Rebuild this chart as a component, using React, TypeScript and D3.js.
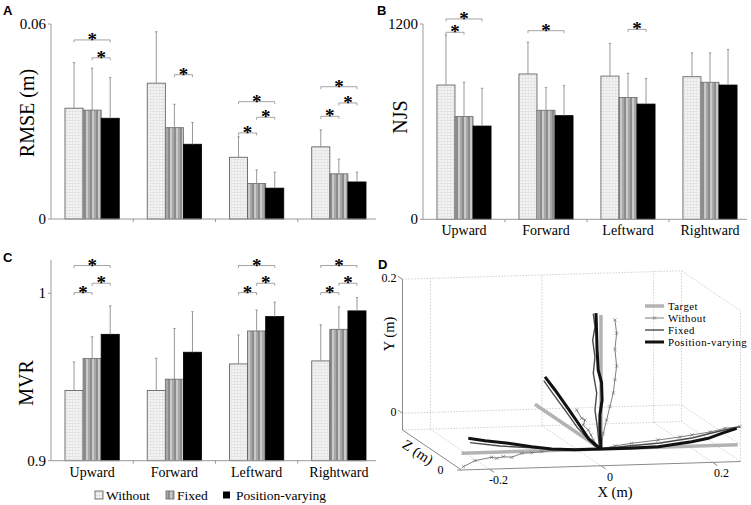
import * as d3 from 'd3';

const categories = ['Upward', 'Forward', 'Leftward', 'Rightward'];
const conditions = ['Without', 'Fixed', 'Position-varying'];

// A: RMSE (m)
const rmseMean = [
  [0.0341, 0.0335, 0.031],
  [0.0418, 0.0281, 0.023],
  [0.019, 0.0109, 0.0095],
  [0.0222, 0.0139, 0.0114],
];
const rmseSd = [
  [0.014, 0.0129, 0.0125],
  [0.0158, 0.0072, 0.0067],
  [0.0063, 0.0042, 0.0049],
  [0.0052, 0.0045, 0.003],
];
// [category, condition a, condition b, bracket height]
const rmseSig = [
  [0, 0, 2, 0.0551], [0, 1, 2, 0.0496],
  [1, 1, 2, 0.0444],
  [2, 0, 2, 0.0361], [2, 1, 2, 0.0313], [2, 0, 1, 0.0265],
  [3, 0, 2, 0.0407], [3, 1, 2, 0.0357], [3, 0, 1, 0.0316],
];

// B: NJS
const njsMean = [
  [825, 631, 573],
  [893, 670, 637],
  [880, 748, 708],
  [876, 842, 825],
];
const njsSd = [
  [307, 211, 232],
  [195, 139, 184],
  [201, 149, 156],
  [146, 180, 218],
];
const njsSig = [
  [0, 0, 1, 1149], [0, 0, 2, 1231],
  [1, 0, 2, 1159],
  [2, 1, 2, 1167],
];

// C: MVR
const mvrMean = [
  [0.942, 0.961, 0.9755],
  [0.942, 0.9487, 0.9648],
  [0.9578, 0.9775, 0.9861],
  [0.9596, 0.9785, 0.9895],
];
const mvrSd = [
  [0.017, 0.013, 0.017],
  [0.0192, 0.0303, 0.0242],
  [0.0173, 0.0125, 0.0086],
  [0.0215, 0.0134, 0.0079],
];
const mvrSig = [
  [0, 0, 2, 1.0166], [0, 1, 2, 1.006], [0, 0, 1, 1.0004],
  [2, 0, 2, 1.0166], [2, 1, 2, 1.006], [2, 0, 1, 1.0004],
  [3, 0, 2, 1.0166], [3, 1, 2, 1.006], [3, 0, 1, 1.0004],
];

// D: trajectories, [x, y, z] in m
const targetUp = [[0, 0, 0], [0, 0.2, 0]];
const targetFwd = [[0, 0, 0], [0, 0, 0.112]];
const targetLeft = [[0, 0, 0], [-0.25, 0, 0]];
const targetRight = [[0, 0, 0], [0.245, 0, 0]];

const withoutUp = [
  [0, 0, 0], [0.004, 0.023, 0], [0.01, 0.043, 0], [0.016, 0.063, 0], [0.022, 0.083, 0],
  [0.025, 0.103, 0], [0.028, 0.123, 0], [0.025, 0.148, 0], [0.028, 0.172, 0], [0.025, 0.192, 0],
];
const fixedUp = [
  [0, 0, 0], [-0.003, 0.0034, 0], [-0.0066, 0.0333, 0], [-0.0108, 0.0582, 0], [-0.0077, 0.0836, 0],
  [-0.0138, 0.1134, 0], [-0.0108, 0.1378, 0], [-0.0149, 0.1627, 0], [-0.0108, 0.1825, 0], [-0.0138, 0.2025, 0],
];
const pvUp = [
  [0, 0, 0], [-0.002, 0.028, 0], [-0.002, 0.051, 0], [0.002, 0.073, 0], [0.001, 0.099, 0],
  [-0.005, 0.118, 0], [-0.007, 0.148, 0], [-0.008, 0.178, 0], [-0.009, 0.203, 0],
];

const withoutFwd = [
  [0, 0, 0], [0, 0, 0.0046], [0, 0.0057, 0.013], [0, 0.0107, 0.017], [0, 0.0155, 0.0215],
  [0, 0.0179, 0.03], [0, 0.0271, 0.0271], [0, 0.0263, 0.0327], [0, 0.0336, 0.0412],
];
const fixedFwd = [
  [0, 0, 0], [0, -0.002, 0.012], [0, 0.008, 0.04], [0, 0.021, 0.06], [0, 0.033, 0.08], [0, 0.044, 0.097],
];
const pvFwd = [
  [0, 0, 0], [0, 0, 0.0046], [0, 0.003, 0.0215], [0, 0.0154, 0.0385], [0, 0.0285, 0.058],
  [0, 0.0415, 0.078], [0, 0.051, 0.0949],
];

const withoutLeft = [
  [0, 0, 0], [-0.0824, 0.0006, 0], [-0.1063, -0.0013, 0], [-0.1242, -0.0024, 0], [-0.1421, -0.0028, 0],
  [-0.16, -0.0083, 0], [-0.1751, -0.007, 0], [-0.187, -0.0091, 0], [-0.1959, -0.0074, 0],
  [-0.2258, -0.0117, 0], [-0.2468, -0.0201, 0],
];
const fixedLeft = [
  [0, 0, 0], [-0.0466, 0, 0], [-0.1063, 0.0037, 0], [-0.181, 0.009, 0], [-0.2348, 0.0154, 0],
];
const pvLeft = [
  [0, 0, 0], [-0.0167, 0, 0], [-0.0466, 0, 0], [-0.0884, 0.0022, 0], [-0.1242, 0.0066, 0],
  [-0.1661, 0.0128, 0], [-0.2079, 0.0177, 0], [-0.2378, 0.022, 0],
];

const withoutRight = [
  [0, 0, 0], [0.025, 0.004, 0], [0.055, 0.0071, 0], [0.1022, 0.0108, 0], [0.1416, 0.0143, 0],
  [0.1631, 0.0168, 0], [0.1953, 0.0204, 0], [0.2222, 0.0252, 0], [0.2491, 0.027, 0],
];
const fixedRight = [
  [0, 0, 0], [0.0484, 0.0033, 0], [0.1057, 0.0063, 0], [0.163, 0.0123, 0], [0.2133, 0.0214, 0], [0.2491, 0.027, 0],
];
const pvRight = [
  [0, 0, 0], [0.0131, 0, 0], [0.0489, 0, 0], [0.1027, 0.0008, 0], [0.1625, 0.0068, 0],
  [0.1923, 0.0111, 0], [0.2163, 0.0179, 0], [0.2432, 0.0247, 0],
];

const xLim = [-0.25, 0.25];
const yLim = [-0.025, 0.2];
const zLim = [0, 0.1];
const xTicks3 = [-0.2, 0, 0.2];
const yTicks3 = [0, 0.2];

const serif = "'Liberation Serif', 'Times New Roman', serif";
const sans = "'Liberation Sans', Arial, sans-serif";
const axisColor = '#9a9a9a';
const fills = ['url(#pWithout)', 'url(#pFixed)', '#000'];
const strokes = ['#555', '#666', '#000'];

function BarPanel(props: any) {
  const { left, right, axisRight, domain, range, axisTop, ticks, fmt, mean, sd, sig,
    title, titleX, titleY, letter, letterX, letterY, showCats, catY } = props;
  const x0 = d3.scaleBand<string>().domain(categories).range([left, right]).paddingInner(0.34).paddingOuter(0.17);
  const x1 = d3.scaleBand<string>().domain(conditions).range([0, x0.bandwidth()]);
  const y = d3.scaleLinear().domain(domain).range(range);
  const base = y(domain[0]);
  const gap = (x0.step() - x0.bandwidth()) / 2;
  const cx = (ci: number, si: number) => x0(categories[ci])! + x1(conditions[si])! + x1.bandwidth() / 2;

  return (
    <g>
      <text x={letterX} y={letterY} fontFamily={sans} fontWeight="bold" fontSize={13}>{letter}</text>
      <text transform={`translate(${titleX},${titleY}) rotate(-90)`} textAnchor="middle"
        dominantBaseline="central" fontFamily={serif} fontSize={20}>{title}</text>
      {categories.map((c, ci) => conditions.map((s, si) => (
        <rect key={c + s} x={x0(c)! + x1(s)!} y={y(mean[ci][si])} width={x1.bandwidth()}
          height={base - y(mean[ci][si])} fill={fills[si]} stroke={strokes[si]} strokeWidth={0.8} />
      )))}
      {categories.map((c, ci) => conditions.map((s, si) => {
        const x = cx(ci, si);
        const top = y(mean[ci][si] + sd[ci][si]);
        return (
          <g key={'e' + c + s} stroke="#8c8c8c" strokeWidth={0.9}>
            <line x1={x} x2={x} y1={y(mean[ci][si])} y2={top} />
            <line x1={x - 1.2} x2={x + 1.2} y1={top} y2={top} />
          </g>
        );
      }))}
      <line x1={left} x2={left} y1={base} y2={y(axisTop)} stroke={axisColor} />
      <line x1={left} x2={axisRight} y1={base} y2={base} stroke={axisColor} />
      {ticks.map((t: number) => (
        <g key={'t' + t}>
          <line x1={left - 3} x2={left} y1={y(t)} y2={y(t)} stroke={axisColor} />
          <text x={left - 5} y={y(t)} textAnchor="end" dominantBaseline="central"
            fontFamily={serif} fontSize={15}>{fmt(t)}</text>
        </g>
      ))}
      {categories.slice(1).map((c) => (
        <line key={'s' + c} x1={x0(c)! - gap} x2={x0(c)! - gap} y1={base} y2={base + 3} stroke={axisColor} />
      ))}
      {sig.map((g: number[], i: number) => {
        const xa = cx(g[0], g[1]);
        const xb = cx(g[0], g[2]);
        const yy = y(g[3]);
        return (
          <g key={'g' + i}>
            <path d={`M${xa},${yy + 2.5}V${yy}H${xb}V${yy + 2.5}`} fill="none" stroke="#9a9a9a" strokeWidth={0.9} />
            <text x={(xa + xb) / 2} y={yy + 6} textAnchor="middle" fontFamily={serif}
              fontWeight="bold" fontSize={19}>*</text>
          </g>
        );
      })}
      {showCats && categories.map((c) => (
        <text key={'c' + c} x={x0(c)! + x0.bandwidth() / 2} y={catY} textAnchor="middle"
          fontFamily={serif} fontSize={14}>{c}</text>
      ))}
    </g>
  );
}

// 3D projection for panel D
const pxx = d3.scaleLinear().domain([0, 1]).range([0, 558]);
const pxy = d3.scaleLinear().domain([0, 1]).range([0, -17]);
const pyy = d3.scaleLinear().domain([0, 1]).range([0, -670]);
const pzx = d3.scaleLinear().domain([0, 1]).range([0, -590]);
const pzy = d3.scaleLinear().domain([0, 1]).range([0, -400]);
const proj = (p: number[]) => [601 + pxx(p[0]) + pzx(p[2]), 449 + pxy(p[0]) + pyy(p[1]) + pzy(p[2])];
const line3 = d3.line<number[]>().x((p) => proj(p)[0]).y((p) => proj(p)[1]);

function Seg({ a, b, dotted, color, w }: any) {
  const p = proj(a);
  const q = proj(b);
  return <line x1={p[0]} y1={p[1]} x2={q[0]} y2={q[1]} stroke={color || (dotted ? '#c4c4c4' : '#8a8a8a')}
    strokeWidth={w || (dotted ? 0.8 : 1)} strokeDasharray={dotted ? '1.5 1.5' : undefined} />;
}

function Marks({ pts }: { pts: number[][] }) {
  return (
    <g stroke="#707070" strokeWidth={0.7}>
      {pts.slice(1).map((p, i) => {
        const [x, y] = proj(p);
        return <path key={i} d={`M${x - 1.6},${y - 1.6}L${x + 1.6},${y + 1.6}M${x - 1.6},${y + 1.6}L${x + 1.6},${y - 1.6}`} />;
      })}
    </g>
  );
}

function Panel3D() {
  const [x0, x1] = xLim;
  const [y0, y1] = yLim;
  const [z0, z1] = zLim;
  const targets = [targetUp, targetFwd, targetLeft, targetRight];
  const withouts = [withoutUp, withoutFwd, withoutLeft, withoutRight];
  const fixeds = [fixedUp, fixedFwd, fixedLeft, fixedRight];
  const pvs = [pvUp, pvFwd, pvLeft, pvRight];
  const lx = 645;
  const legend = [
    { name: 'Target', y: 306, color: '#b3b3b3', w: 3.5 },
    { name: 'Without', y: 318, color: '#707070', w: 0.9 },
    { name: 'Fixed', y: 330, color: '#4a4a4a', w: 1.4 },
    { name: 'Position-varying', y: 342, color: '#111', w: 3 },
  ];
  return (
    <g>
      <text x={378} y={269} fontFamily={sans} fontWeight="bold" fontSize={13}>D</text>
      {/* back plane */}
      <Seg a={[x0, y1, z1]} b={[x1, y1, z1]} dotted />
      <Seg a={[x0, y0, z1]} b={[x1, y0, z1]} dotted />
      <Seg a={[x0, 0, z1]} b={[x1, 0, z1]} dotted />
      <Seg a={[x1, y0, z1]} b={[x1, y1, z1]} dotted />
      {xTicks3.map((t) => <Seg key={'bv' + t} a={[t, y0, z1]} b={[t, y1, z1]} dotted />)}
      {/* right plane */}
      <Seg a={[x1, y1, z1]} b={[x1, y1, z0]} dotted />
      <Seg a={[x1, y0, z1]} b={[x1, y0, z0]} dotted />
      <Seg a={[x1, 0, z1]} b={[x1, 0, z0]} dotted />
      <Seg a={[x1, y0, z0]} b={[x1, y1, z0]} dotted />
      {/* floor */}
      {xTicks3.map((t) => <Seg key={'f' + t} a={[t, y0, z1]} b={[t, y0, z0]} dotted />)}
      {/* axes */}
      <Seg a={[x0, y0, z1]} b={[x0, y1, z1]} />
      <Seg a={[x0, y0, z1]} b={[x0, y0, z0]} />
      <Seg a={[x0, y0, z0]} b={[x1, y0, z0]} />
      {xTicks3.map((t) => {
        const p = proj([t, y0, z0]);
        return (
          <g key={'xt' + t}>
            <Seg a={[t, y0, z0]} b={[t, y0, -0.008]} />
            <text x={p[0] + 9} y={p[1] + 15} textAnchor="middle" fontFamily={serif} fontSize={12}>{String(t)}</text>
          </g>
        );
      })}
      {yTicks3.map((t) => {
        const p = proj([x0, t, z1]);
        return (
          <g key={'yt' + t}>
            <Seg a={[x0, t, z1]} b={[x0, t, z1 + 0.008]} />
            <text x={p[0] - 6} y={p[1] - 1} textAnchor="end" dominantBaseline="central" fontFamily={serif} fontSize={12}>{String(t)}</text>
          </g>
        );
      })}
      <Seg a={[x0, y0, z0]} b={[x0 - 0.008, y0, z0]} />
      <text x={proj([x0, y0, z0])[0] - 21} y={proj([x0, y0, z0])[1]} dominantBaseline="central"
        textAnchor="middle" fontFamily={serif} fontSize={12}>0</text>
      <text transform="translate(389,334) rotate(-90)" textAnchor="middle" dominantBaseline="central"
        fontFamily={serif} fontSize={14.5}>Y (m)</text>
      <text x={615} y={497} textAnchor="middle" fontFamily={serif} fontSize={14.5}>X (m)</text>
      <text transform="translate(418,452) rotate(33)" textAnchor="middle" dominantBaseline="central"
        fontFamily={serif} fontSize={14.5}>Z (m)</text>
      {/* trajectories */}
      {targets.map((t, i) => <path key={'tg' + i} d={line3(t)!} fill="none" stroke="#b3b3b3" strokeWidth={3.5} />)}
      {withouts.map((t, i) => (
        <g key={'wo' + i}>
          <path d={line3(t)!} fill="none" stroke="#707070" strokeWidth={0.9} />
          <Marks pts={t} />
        </g>
      ))}
      {fixeds.map((t, i) => <path key={'fx' + i} d={line3(t)!} fill="none" stroke="#4a4a4a" strokeWidth={1.4} />)}
      {pvs.map((t, i) => <path key={'pv' + i} d={line3(t)!} fill="none" stroke="#111" strokeWidth={3} />)}
      {/* legend */}
      {legend.map((l) => (
        <g key={l.name}>
          <line x1={lx} x2={lx + 19} y1={l.y} y2={l.y} stroke={l.color} strokeWidth={l.w} />
          {l.name === 'Without' && (
            <path d={`M${lx + 8},${l.y - 1.6}L${lx + 11},${l.y + 1.6}M${lx + 8},${l.y + 1.6}L${lx + 11},${l.y - 1.6}`}
              stroke="#707070" strokeWidth={0.7} />
          )}
          <text x={lx + 23} y={l.y + 3.8} fontFamily={serif} fontSize={10.8} letterSpacing={0.45}>{l.name}</text>
        </g>
      ))}
    </g>
  );
}

export default function App() {
  const legendItems = [
    { name: 'Without', ix: 95, tx: 106 },
    { name: 'Fixed', ix: 166, tx: 177 },
    { name: 'Position-varying', ix: 223, tx: 236 },
  ];
  return (
    <svg width={751} height={505} style={{ position: 'absolute', left: 0, top: 0, background: '#fff' }}>
      <defs>
        <pattern id="pWithout" width={3} height={3} patternUnits="userSpaceOnUse">
          <rect width={3} height={3} fill="#f4f4f4" />
          <rect width={3} height={1} fill="#e3e3e3" />
          <rect width={1} height={3} fill="#e6e6e6" />
        </pattern>
        <pattern id="pFixed" width={6} height={6} patternUnits="userSpaceOnUse">
          <rect width={2} height={6} fill="#8c8c8c" />
          <rect x={2} width={2} height={6} fill="#cacaca" />
          <rect x={4} width={2} height={6} fill="#a8a8a8" />
        </pattern>
      </defs>
      <BarPanel left={51} right={380} axisRight={376} domain={[0, 0.06]} range={[219, 24]} axisTop={0.06}
        ticks={[0, 0.06]} fmt={(t: number) => (t === 0 ? '0' : String(t))} mean={rmseMean} sd={rmseSd} sig={rmseSig}
        title="RMSE (m)" titleX={27} titleY={113} letter="A" letterX={3} letterY={15} showCats={false} catY={0} />
      <BarPanel left={423} right={751} axisRight={747} domain={[0, 1200]} range={[219.3, 24]} axisTop={1200}
        ticks={[0, 1200]} fmt={(t: number) => String(t)} mean={njsMean} sd={njsSd} sig={njsSig}
        title="NJS" titleX={400} titleY={117} letter="B" letterX={377} letterY={15} showCats={true} catY={235} />
      <BarPanel left={51} right={380} axisRight={376} domain={[0.9, 1]} range={[460.7, 293.3]} axisTop={1.02}
        ticks={[0.9, 1]} fmt={(t: number) => String(t)} mean={mvrMean} sd={mvrSd} sig={mvrSig}
        title="MVR" titleX={26} titleY={383} letter="C" letterX={3} letterY={262} showCats={true} catY={477} />
      {legendItems.map((l, i) => (
        <g key={l.name}>
          {i < 2 ? (
            <rect x={l.ix} y={491} width={8} height={8} fill={fills[i]} stroke={strokes[i]} strokeWidth={0.8} />
          ) : (
            <rect x={l.ix} y={491.5} width={7} height={7} fill="#000" />
          )}
          <text x={l.tx} y={500} fontFamily={serif} fontSize={13.5}>{l.name}</text>
        </g>
      ))}
      <Panel3D />
    </svg>
  );
}
